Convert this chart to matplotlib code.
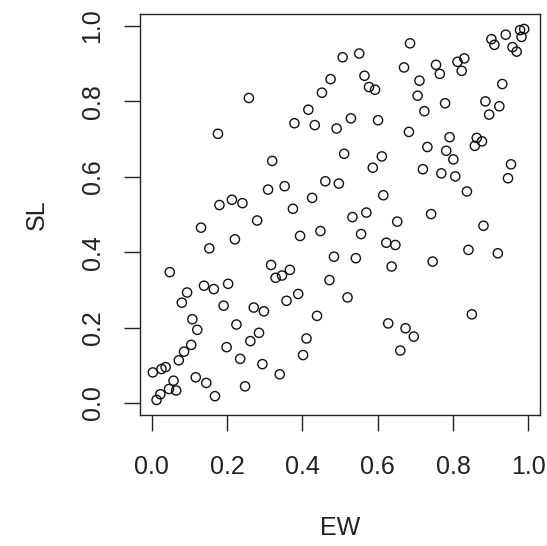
import matplotlib
matplotlib.use("Agg")
import matplotlib.pyplot as plt

plt.rcParams['font.family'] = ['Liberation Sans', 'DejaVu Sans']

EW = [0.686, 0.507, 0.551, 0.670, 0.475, 0.565, 0.452, 0.577, 0.593, 0.416,
      0.379, 0.433, 0.491, 0.529, 0.601, 0.683, 0.511, 0.611, 0.587, 0.320,
      0.353, 0.309, 0.461, 0.497, 0.426, 0.615, 0.258, 0.176, 0.180, 0.213,
      0.241, 0.375, 0.533, 0.570, 0.755, 0.765, 0.711, 0.706, 0.724, 0.779,
      0.812, 0.830, 0.823, 0.902, 0.910, 0.940, 0.958, 0.969, 0.978, 0.989,
      0.982, 0.931, 0.886, 0.923, 0.896, 0.732, 0.791, 0.782, 0.801, 0.863,
      0.877, 0.858, 0.954, 0.946, 0.720, 0.769, 0.806, 0.837, 0.742, 0.652,
      0.881, 0.841, 0.919, 0.746, 0.850, 0.556, 0.623, 0.647, 0.484, 0.542,
      0.637, 0.472, 0.520, 0.628, 0.674, 0.696, 0.660, 0.394, 0.448, 0.317,
      0.329, 0.346, 0.367, 0.389, 0.358, 0.439, 0.411, 0.402, 0.340, 0.131,
      0.280, 0.153, 0.221, 0.048, 0.139, 0.165, 0.203, 0.094, 0.080, 0.191,
      0.271, 0.298, 0.108, 0.121, 0.225, 0.285, 0.262, 0.105, 0.086, 0.072,
      0.199, 0.235, 0.294, 0.003, 0.026, 0.037, 0.058, 0.117, 0.145, 0.248,
      0.168, 0.013, 0.023, 0.046, 0.065]

SL = [0.954, 0.917, 0.927, 0.890, 0.859, 0.868, 0.823, 0.838, 0.831, 0.778,
      0.742, 0.737, 0.728, 0.755, 0.750, 0.719, 0.661, 0.654, 0.624, 0.642,
      0.575, 0.566, 0.588, 0.582, 0.544, 0.551, 0.809, 0.714, 0.525, 0.539,
      0.530, 0.515, 0.493, 0.505, 0.897, 0.873, 0.855, 0.815, 0.774, 0.795,
      0.905, 0.914, 0.881, 0.965, 0.950, 0.977, 0.944, 0.932, 0.989, 0.992,
      0.971, 0.846, 0.800, 0.787, 0.765, 0.679, 0.705, 0.669, 0.646, 0.703,
      0.694, 0.682, 0.633, 0.596, 0.620, 0.609, 0.601, 0.561, 0.501, 0.481,
      0.470, 0.406, 0.397, 0.375, 0.235, 0.448, 0.425, 0.419, 0.388, 0.384,
      0.362, 0.326, 0.280, 0.211, 0.198, 0.176, 0.139, 0.443, 0.456, 0.366,
      0.332, 0.338, 0.353, 0.289, 0.271, 0.231, 0.171, 0.127, 0.076, 0.465,
      0.484, 0.410, 0.434, 0.347, 0.311, 0.302, 0.316, 0.293, 0.266, 0.258,
      0.253, 0.243, 0.222, 0.194, 0.208, 0.186, 0.164, 0.154, 0.136, 0.113,
      0.148, 0.117, 0.103, 0.081, 0.090, 0.095, 0.059, 0.068, 0.053, 0.044,
      0.018, 0.008, 0.023, 0.037, 0.033]

ticks = [0.0, 0.2, 0.4, 0.6, 0.8, 1.0]
tick_labels = ["0.0", "0.2", "0.4", "0.6", "0.8", "1.0"]

fig = plt.figure(figsize=(5.47, 5.46), dpi=100)
ax = fig.add_axes([140/547, (546-415)/546, 400/547, 400.7/546])

ax.scatter(EW, SL, s=44, facecolors='none', edgecolors='#111111', linewidths=1.0)

ax.set_xlim(-0.031, 1.031)
ax.set_ylim(-0.032, 1.031)
ax.set_xticks(ticks)
ax.set_xticklabels(tick_labels)
ax.set_yticks(ticks)
ax.set_yticklabels(tick_labels, rotation=90, va='center')

for s in ax.spines.values():
    s.set_linewidth(1.0)
    s.set_color('#222222')

ax.tick_params(axis='both', direction='out', length=11.5, width=1.0,
               color='#222222', labelsize=18, labelcolor='#222222')
ax.tick_params(axis='x', pad=17)
ax.tick_params(axis='y', pad=14)

ax.set_xlabel('EW', fontsize=18, color='#222222')
ax.set_ylabel('SL', fontsize=18, color='#222222')
ax.xaxis.set_label_coords(0.5, -(528-415)/400.7)
ax.xaxis.label.set_va('center')
ax.yaxis.set_label_coords((37-140)/400, 0.5)
ax.yaxis.label.set_va('center')

fig.savefig('out.png', dpi=100)
